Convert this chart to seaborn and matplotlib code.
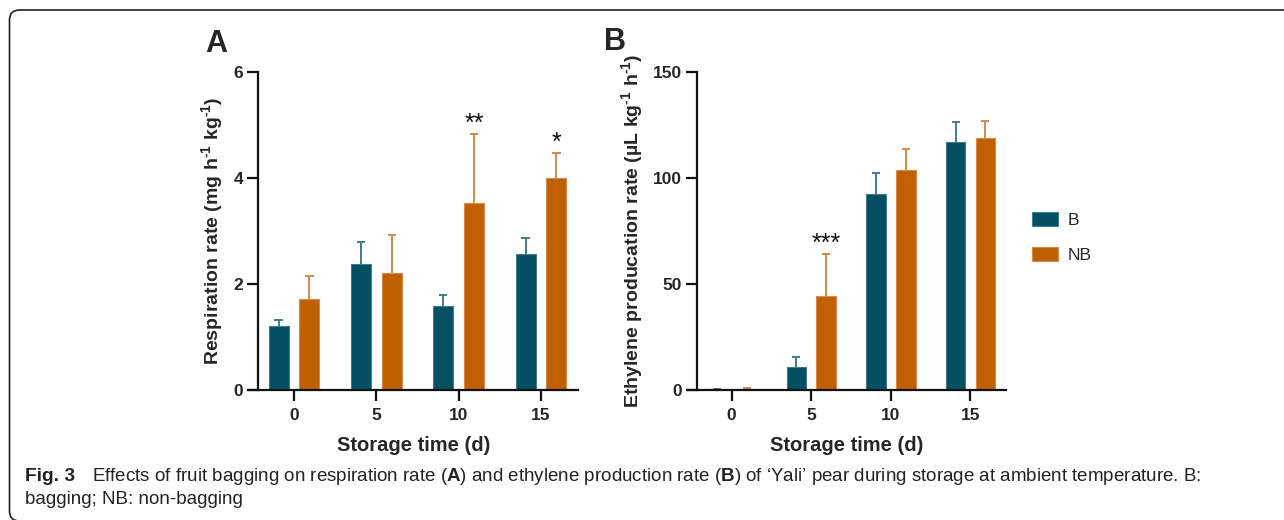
import numpy as np
import pandas as pd
import matplotlib.pyplot as plt
import seaborn as sns
from matplotlib.patches import FancyBboxPatch, Patch

# storage days and treatment groups
days = ['0', '5', '10', '15']
groups = ['B', 'NB']

# respiration rate (mg h-1 kg-1), mean and upper error
resp_b = [1.21, 2.38, 1.58, 2.56]
resp_b_err = [0.12, 0.42, 0.21, 0.31]
resp_nb = [1.71, 2.20, 3.52, 4.00]
resp_nb_err = [0.44, 0.73, 1.31, 0.47]
resp_stars = ['', '', '**', '*']

# ethylene production rate (uL kg-1 h-1)
eth_b = [0.3, 11.0, 92.5, 116.9]
eth_b_err = [0.2, 4.7, 9.9, 9.3]
eth_nb = [0.7, 44.4, 103.7, 119.1]
eth_nb_err = [0.1, 19.7, 9.8, 7.9]
eth_stars = ['', '***', '', '']

colors = {'B': '#044F62', 'NB': '#C06000'}
err_colors = {'B': '#3F7D8E', 'NB': '#D9874A'}

sns.set_style('ticks')
plt.rcParams['font.family'] = ['Liberation Sans', 'DejaVu Sans']
plt.rcParams['mathtext.fontset'] = 'custom'
plt.rcParams['mathtext.rm'] = 'Liberation Sans:bold'
plt.rcParams['mathtext.bf'] = 'Liberation Sans:bold'
plt.rcParams['mathtext.it'] = 'Liberation Sans:bold'


def draw_panel(ax, b, b_err, nb, nb_err, stars, ymax, ystep, ylabel, spine_x, xlim):
    df = pd.DataFrame({
        'day': days * 2,
        'group': ['B'] * 4 + ['NB'] * 4,
        'value': b + nb,
    })
    sns.barplot(data=df, x='day', y='value', hue='group', order=days, hue_order=groups,
                palette=colors, width=0.75, gap=0.35, errorbar=None, legend=False,
                saturation=1, ax=ax)
    cap = 0.05
    for cont, g, errs in zip(ax.containers, groups, [b_err, nb_err]):
        for bar, e in zip(cont, errs):
            bar.set_edgecolor(err_colors[g])
            bar.set_linewidth(0.8)
            x = bar.get_x() + bar.get_width() / 2
            h = bar.get_height()
            # upper error bar only
            ax.plot([x, x], [h, h + e], color=err_colors[g], lw=1.4, zorder=0.5)
            ax.plot([x - cap, x + cap], [h + e, h + e], color=err_colors[g], lw=1.4,
                    zorder=0.5, solid_capstyle='butt')
    # significance marks over the NB bars
    for bar, s, e in zip(ax.containers[1], stars, nb_err):
        if s:
            x = bar.get_x() + bar.get_width() / 2
            ax.text(x, bar.get_height() + e - ymax * 0.007, s, ha='center', va='bottom',
                    fontsize=18, color='#111111')

    ax.set_ylim(0, ymax)
    ax.set_xlim(*xlim)
    ax.set_yticks(np.arange(0, ymax + 0.01, ystep))
    ax.spines['left'].set_position(('data', spine_x))
    ax.spines['right'].set_visible(False)
    ax.spines['top'].set_visible(False)
    for sp in ['left', 'bottom']:
        ax.spines[sp].set_linewidth(1.6)
        ax.spines[sp].set_color('#111111')
    ax.tick_params(axis='both', length=8, width=1.6, labelsize=12.5, color='#111111')
    ax.tick_params(axis='x', pad=5)
    ax.tick_params(axis='y', pad=3)
    for lab in ax.get_xticklabels() + ax.get_yticklabels():
        lab.set_fontweight('bold')
    ax.set_xlabel('Storage time (d)', fontsize=14.5, fontweight='bold', labelpad=9)
    ax.set_ylabel(ylabel, fontsize=14, fontweight='bold', labelpad=6)


fig = plt.figure(figsize=(12.84, 5.2), dpi=100)
ax_a = fig.add_axes([0.1934, 0.25, 0.257, 0.6115])
ax_b = fig.add_axes([0.5356, 0.25, 0.2477, 0.6115])

draw_panel(ax_a, resp_b, resp_b_err, resp_nb, resp_nb_err, resp_stars, 6, 2,
           r'Respiration rate (mg h$^{‐1}$ kg$^{‐1}$)', -0.434, (-0.555, 3.453))
draw_panel(ax_b, eth_b, eth_b_err, eth_nb, eth_nb_err, eth_stars, 150, 50,
           r'Ethylene producation rate (µL kg$^{‐1}$ h$^{‐1}$)', -0.432, (-0.552, 3.443))

fig.text(205 / 1284, 1 - 52 / 520, 'A', fontsize=22, fontweight='bold', va='baseline')
fig.text(604 / 1284, 1 - 50 / 520, 'B', fontsize=22, fontweight='bold', va='baseline')

handles = [Patch(facecolor=colors[g], edgecolor=err_colors[g], linewidth=0.8) for g in groups]
fig.legend(handles, groups, loc='upper left', bbox_to_anchor=(1016 / 1284, 1 - 196 / 520),
           frameon=False, fontsize=12.5, handlelength=1.5, handleheight=0.9,
           labelspacing=1.1, handletextpad=0.6)

# caption
fig.text(25 / 1284, 1 - 481 / 520, 'Fig. 3', fontsize=13.8, fontweight='bold', va='baseline',
         color='#222222')
fig.text(92 / 1284, 1 - 481 / 520,
         r"Effects of fruit bagging on respiration rate ($\mathbf{A}$) and ethylene production rate "
         r"($\mathbf{B}$) of ‘Yali’ pear during storage at ambient temperature. B:",
         fontsize=13.5, va='baseline', color='#222222')
fig.text(25 / 1284, 1 - 504 / 520, 'bagging; NB: non-bagging', fontsize=13.5, va='baseline',
         color='#222222')

fig.add_artist(FancyBboxPatch((9.5, -1), 1400, 511, boxstyle='round,pad=0,rounding_size=10',
                              transform=None, fill=False, edgecolor='#222222', linewidth=1.2))

fig.savefig('out.png', dpi=100)
